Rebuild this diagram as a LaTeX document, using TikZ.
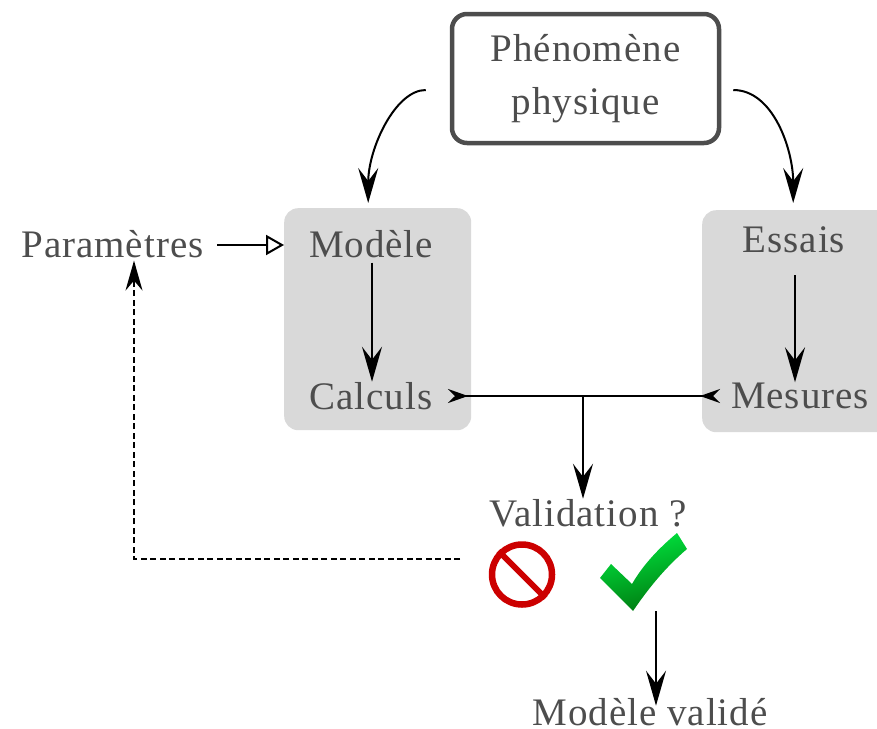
\documentclass[tikz,border=0pt]{standalone}
\usepackage{fontspec}
\setmainfont[LetterSpace=2.5]{Liberation Serif}
\usetikzlibrary{arrows.meta,calc,shapes.misc}
\definecolor{txt}{HTML}{4D4D4D}
\definecolor{boxg}{HTML}{D9D9D9}
\definecolor{nored}{HTML}{CC0000}
\definecolor{chkhi}{HTML}{00E840}
\definecolor{chklo}{HTML}{007A10}
\tikzset{
 lbl/.style={text=txt,font=\fontsize{39}{53}\selectfont,inner sep=0pt,anchor=base,align=center},
 grp/.style={fill=boxg,rounded corners=14pt,inner sep=0pt,anchor=north west},
 big/.style={line width=2pt,-{Stealth[length=35pt,width=20pt,inset=13pt]}},
 inward/.style={line width=2pt,{Stealth[length=20pt,width=14pt,inset=7pt,reversed]}-{Stealth[length=20pt,width=14pt,inset=7pt,reversed]}},
 opentip/.style={line width=2pt,-{Triangle[open,length=18pt,width=20pt]}},
 dashline/.style={line width=1.5pt,dash pattern=on 6pt off 3.5pt,-{Stealth[length=30pt,width=17pt,inset=10pt]}}
}
\begin{document}
\begin{tikzpicture}[x=1pt,y=-1pt]
\useasboundingbox (0,0) rectangle (877,728);
\clip (0,0) rectangle (877,728);
% grey groups
\node[grp,minimum width=187pt,minimum height=222pt] (modbox) at (284,208) {};
\node[grp,minimum width=195pt,minimum height=222pt] (essbox) at (702,210) {};
% top box
\node[draw=txt,line width=4.5pt,rounded corners=15pt,minimum width=267pt,minimum height=129pt,inner sep=0pt,text=txt,align=center,
  font=\fontsize{39}{53}\selectfont] (phen) at (585.5,78.5) {Phénomène\\physique};
% labels
\node[lbl] (par) at (112.5,257) {Paramètres};
\node[lbl] (mod) at (371,257) {Modèle};
\node[lbl] (cal) at (371,409) {Calculs};
\node[lbl] (ess) at (794,252) {Essais};
\node[lbl] (mes) at (800,408) {Mesures};
\node[lbl] (val) at (588,526) {Validation ?};
\node[lbl] (ok) at (650,725) {Modèle validé};
% no-entry sign
\node[circle,draw=nored,line width=6.5pt,minimum size=60pt,inner sep=0pt] (nosign) at (522,574.5) {};
\draw[nored,line width=6pt] (nosign.135) -- (nosign.-45);
% check mark
\shade[top color=chklo,bottom color=chkhi,shading angle=195]
  (600,578) -- (611,564) -- (632,584) .. controls (643,565) and (658,549) .. (677,533)
  -- (687,549) .. controls (667,566) and (650,586) .. (633,611) -- cycle;
\node[inner sep=0pt,minimum width=87pt,minimum height=78pt] (check) at (643.5,572) {};
% connectors
\draw[big,shorten <=24pt] (phen.west |- 0,90) to[out=180,in=90] ([xshift=-9.5pt,yshift=5pt]modbox.north);
\draw[big,shorten <=12pt] (phen.east |- 0,90) to[out=0,in=90] ([xshift=-6.5pt,yshift=7pt]essbox.north);
\draw[big] ([xshift=1pt,yshift=-5pt]mod.south) -- ([xshift=1pt,yshift=0pt]mod.south |- cal.north);
\draw[big] ([xshift=1pt]ess.south |- 0,275) -- ([xshift=1pt]ess.south |- mes.north);
\draw[opentip] (217,245) -- (modbox.west |- 0,245);
\draw[inward] (448,396) -- (720,396);
\coordinate (junction) at (583,396);
\draw[big] (junction) -- (junction |- val.north);
\coordinate (nostart) at (460,559);
\draw[dashline] (nostart) -- (134,559) -- ([xshift=21.5pt,yshift=-3pt]par.south);
\draw[big] ([xshift=12.5pt]check.south) -- ([xshift=12.5pt,yshift=-8pt]check.south |- ok.north);
\end{tikzpicture}
\end{document}
